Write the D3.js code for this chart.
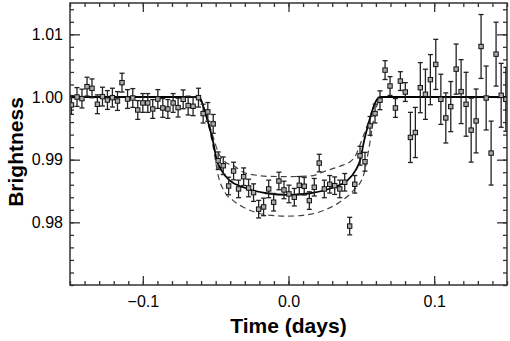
<!DOCTYPE html>
<html>
<head>
<meta charset="utf-8">
<script src="https://cdn.jsdelivr.net/npm/d3@7"></script>
<style>
  body { margin: 0; background: #fff; }
  text { font-family: "Liberation Sans", Arial, sans-serif; }
</style>
</head>
<body>
<div id="chart"></div>
<script>
// observed points (time in days, relative brightness, 1-sigma error)
const time = [
  -0.1490, -0.1452, -0.1418, -0.1383, -0.1349, -0.1312, -0.1277, -0.1243, -0.1209, -0.1174,
  -0.1143, -0.1105, -0.1069, -0.1035, -0.1000, -0.0966, -0.0932, -0.0897, -0.0863, -0.0828,
  -0.0792, -0.0758, -0.0723, -0.0689, -0.0655, -0.0618, -0.0586, -0.0554, -0.0517, -0.0483,
  -0.0448, -0.0411, -0.0377, -0.0343, -0.0308, -0.0274, -0.0240, -0.0205, -0.0171, -0.0136,
  -0.0102, -0.0066, -0.0031, 0.0003, 0.0040, 0.0074, 0.0108, 0.0143, 0.0177, 0.0211,
  0.0246, 0.0283, 0.0317, 0.0352, 0.0386, 0.0420, 0.0455, 0.0491, 0.0525, 0.0560,
  0.0594, 0.0628, 0.0663, 0.0697, 0.0734, 0.0768, 0.0802, 0.0837, 0.0871, 0.0905,
  0.0940, 0.0974, 0.1011, 0.1046, 0.1080, 0.1114, 0.1151, 0.1185, 0.1219, 0.1254,
  0.1288, 0.1322, 0.1357, 0.1391, 0.1425, 0.1460, 0.1492
];
const brightness = [
  0.99873, 1.00000, 0.99975, 1.00165, 1.00138, 0.99884, 1.00006, 0.99952, 0.99990, 0.99936,
  1.00229, 0.99968, 0.99984, 0.99793, 0.99905, 0.99905, 0.99809, 0.99968, 0.99825, 0.99809,
  0.99905, 0.99831, 0.99963, 0.99863, 0.99852, 0.99990, 0.99735, 0.99762, 0.99571, 0.98983,
  0.98903, 0.98580, 0.98819, 0.98533, 0.98728, 0.98548, 0.98474, 0.98210, 0.98246, 0.98533,
  0.98321, 0.98660, 0.98517, 0.98453, 0.98401, 0.98591, 0.98576, 0.98347, 0.98560, 0.98946,
  0.98533, 0.98607, 0.98585, 0.98533, 0.98639, 0.97940, 0.98607, 0.99062, 0.98967, 0.99539,
  0.99736, 0.99948, 1.00429, 1.00175, 0.99825, 1.00254, 1.00079, 0.99355, 0.99434, 1.00149,
  1.00043, 1.00277, 1.00520, 0.99963, 0.99666, 0.99847, 1.00445, 1.00086, 0.99884, 0.99471,
  0.99618, 1.00806, 0.99984, 0.99105, 1.00684, 1.00027, 0.99963
];
const errors = [
  0.0015, 0.0015, 0.0015, 0.0015, 0.0015, 0.0015, 0.0015, 0.0015, 0.0015, 0.0015,
  0.0015, 0.0015, 0.0015, 0.0015, 0.0015, 0.0015, 0.0015, 0.0015, 0.0015, 0.0015,
  0.0015, 0.0015, 0.0015, 0.0015, 0.0015, 0.0015, 0.0015, 0.0015, 0.0015, 0.0014,
  0.0014, 0.0014, 0.0014, 0.0014, 0.0014, 0.0014, 0.0014, 0.0014, 0.0014, 0.0014,
  0.0014, 0.0014, 0.0014, 0.0014, 0.0014, 0.0014, 0.0014, 0.0014, 0.0014, 0.0014,
  0.0014, 0.0014, 0.0014, 0.0014, 0.0014, 0.0014, 0.0014, 0.0015, 0.0015, 0.0015,
  0.0015, 0.0015, 0.0015, 0.0015, 0.0015, 0.0015, 0.0015, 0.0040, 0.0040, 0.0040,
  0.0040, 0.0040, 0.0040, 0.0040, 0.0040, 0.0040, 0.0040, 0.0051, 0.0051, 0.0051,
  0.0051, 0.0051, 0.0051, 0.0051, 0.0051, 0.0051, 0.0051
];

// best fit model (solid)
const modelTime = [-0.15, -0.0622, -0.0600, -0.0586, -0.0552, -0.0517, -0.0494, -0.0459, -0.0402,
  -0.0311, -0.0150, 0.0, 0.0150, 0.0311, 0.0402, 0.0459, 0.0494, 0.0517, 0.0552, 0.0586, 0.0606, 0.0628, 0.15];
const modelFlux = [1.0, 1.0, 0.99955, 0.99857, 0.99598, 0.99280, 0.99010, 0.98824, 0.98665,
  0.98560, 0.98464, 0.98437, 0.98464, 0.98560, 0.98665, 0.98824, 0.99010, 0.99280, 0.99598, 0.99857, 0.99955, 1.0, 1.0];

// alternative models (dashed)
const upperTime = [-0.0622, -0.0586, -0.0552, -0.0517, -0.0483, -0.0437, -0.0370, -0.0310, -0.0230,
  -0.0150, 0.0, 0.0150, 0.0260, 0.0350, 0.0445, 0.0514, 0.0552, 0.0586, 0.0628];
const upperFlux = [1.0, 0.99857, 0.99620, 0.99360, 0.99120, 0.98967, 0.98893, 0.98798, 0.98755,
  0.98734, 0.98730, 0.98740, 0.98824, 0.98893, 0.99010, 0.99380, 0.99620, 0.99857, 1.0];
const lowerTime = [-0.0622, -0.0586, -0.0552, -0.0517, -0.0483, -0.0437, -0.0380, -0.0310, -0.0230,
  -0.0150, 0.0, 0.0100, 0.0240, 0.0350, 0.0445, 0.0514, 0.0552, 0.0586, 0.0620, 0.0640];
const lowerFlux = [1.0, 0.99850, 0.99580, 0.99200, 0.98750, 0.98480, 0.98347, 0.98242, 0.98162,
  0.98119, 0.98099, 0.98112, 0.98188, 0.98321, 0.98506, 0.98744, 0.99180, 0.99660, 0.99950, 1.0];

const xMajor = [-0.1, 0.0, 0.1];
const yMajor = [0.98, 0.99, 1.00, 1.01];

const w = 510, h = 341;
const padLeft = 70, padRight = 507, padTop = 3, padBottom = 285;

const svg = d3.select('#chart').append('svg')
  .attr('width', w).attr('height', h);

const x = d3.scaleLinear().domain([-0.15, 0.15]).range([padLeft, padRight]);
const y = d3.scaleLinear().domain([0.970, 1.015]).range([padBottom, padTop]);

const xMinor = d3.range(-15, 16).map(d => d / 100);
const yMinor = d3.range(485, 508).map(d => d / 500);

svg.append('clipPath').attr('id', 'clip')
  .append('rect').attr('x', padLeft).attr('y', padTop)
  .attr('width', padRight - padLeft).attr('height', padBottom - padTop);

// axes, ticks pointing inward on all four sides
function styleAxis(g) {
  g.select('.domain').remove();
  g.selectAll('.tick line').attr('stroke', '#333').attr('stroke-width', 1.3);
  g.selectAll('.tick text').attr('fill', '#000').style('font-size', '16px');
}

svg.append('g').attr('transform', 'translate(0,' + padBottom + ')')
  .call(d3.axisBottom(x).tickValues(xMinor).tickSize(-4).tickFormat('')).call(styleAxis);
svg.append('g').attr('transform', 'translate(0,' + padBottom + ')')
  .call(d3.axisBottom(x).tickValues(xMajor).tickSize(-9).tickPadding(11)
    .tickFormat(d3.format('.1f'))).call(styleAxis);
svg.append('g').attr('transform', 'translate(0,' + padTop + ')')
  .call(d3.axisTop(x).tickValues(xMinor).tickSize(-4).tickFormat('')).call(styleAxis);
svg.append('g').attr('transform', 'translate(0,' + padTop + ')')
  .call(d3.axisTop(x).tickValues(xMajor).tickSize(-9).tickFormat('')).call(styleAxis);

svg.append('g').attr('transform', 'translate(' + padLeft + ',0)')
  .call(d3.axisLeft(y).tickValues(yMinor).tickSize(-4).tickFormat('')).call(styleAxis);
svg.append('g').attr('transform', 'translate(' + padLeft + ',0)')
  .call(d3.axisLeft(y).tickValues(yMajor).tickSize(-10).tickPadding(7)
    .tickFormat(d3.format('.2f'))).call(styleAxis);
svg.append('g').attr('transform', 'translate(' + padRight + ',0)')
  .call(d3.axisRight(y).tickValues(yMinor).tickSize(-4).tickFormat('')).call(styleAxis);
svg.append('g').attr('transform', 'translate(' + padRight + ',0)')
  .call(d3.axisRight(y).tickValues(yMajor).tickSize(-10).tickFormat('')).call(styleAxis);

const plot = svg.append('g').attr('clip-path', 'url(#clip)');

// model curves
const line = d3.line().x(d => x(d[0])).y(d => y(d[1])).curve(d3.curveMonotoneX);

plot.append('path')
  .datum(upperTime.map((t, i) => [t, upperFlux[i]]))
  .attr('d', line).attr('fill', 'none')
  .attr('stroke', '#444').attr('stroke-width', 1.2).attr('stroke-dasharray', '6,4');
plot.append('path')
  .datum(lowerTime.map((t, i) => [t, lowerFlux[i]]))
  .attr('d', line).attr('fill', 'none')
  .attr('stroke', '#444').attr('stroke-width', 1.2).attr('stroke-dasharray', '6,4');
plot.append('path')
  .datum(modelTime.map((t, i) => [t, modelFlux[i]]))
  .attr('d', line).attr('fill', 'none')
  .attr('stroke', '#000').attr('stroke-width', 1.8);

// error bars + points
const points = time.map((t, i) => ({ t: t, b: brightness[i], e: errors[i] }));

const bars = plot.selectAll('.err').data(points).enter().append('g')
  .attr('class', 'err').attr('stroke', '#222').attr('stroke-width', 1.3);
bars.append('line')
  .attr('x1', d => x(d.t)).attr('x2', d => x(d.t))
  .attr('y1', d => y(d.b - d.e)).attr('y2', d => y(d.b + d.e));
bars.append('line')
  .attr('x1', d => x(d.t) - 2.5).attr('x2', d => x(d.t) + 2.5)
  .attr('y1', d => y(d.b - d.e)).attr('y2', d => y(d.b - d.e));
bars.append('line')
  .attr('x1', d => x(d.t) - 2.5).attr('x2', d => x(d.t) + 2.5)
  .attr('y1', d => y(d.b + d.e)).attr('y2', d => y(d.b + d.e));

plot.selectAll('.pt').data(points).enter().append('rect')
  .attr('class', 'pt')
  .attr('x', d => x(d.t) - 2.2).attr('y', d => y(d.b) - 2.2)
  .attr('width', 4.4).attr('height', 4.4)
  .attr('fill', '#aaa').attr('stroke', '#111').attr('stroke-width', 1);

// frame
svg.append('rect')
  .attr('x', padLeft).attr('y', padTop)
  .attr('width', padRight - padLeft).attr('height', padBottom - padTop)
  .attr('fill', 'none').attr('stroke', '#333').attr('stroke-width', 1.5);

// axis titles
svg.append('text')
  .attr('x', (padLeft + padRight) / 2).attr('y', 333)
  .attr('text-anchor', 'middle')
  .style('font-size', '21px').style('font-weight', 'bold')
  .text('Time (days)');

svg.append('text')
  .attr('transform', 'translate(23,152) rotate(-90)')
  .attr('text-anchor', 'middle')
  .style('font-size', '21px').style('font-weight', 'bold')
  .text('Brightness');
</script>
</body>
</html>
